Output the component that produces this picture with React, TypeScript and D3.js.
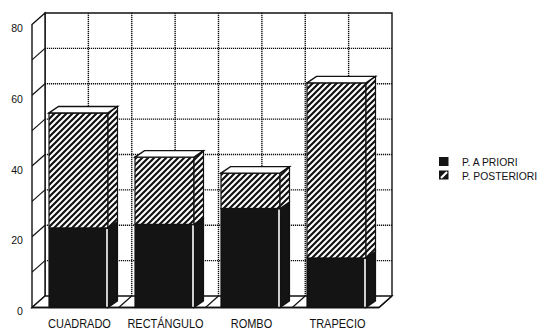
import React from "react";
import * as d3 from "d3";

// Stacked values per figure
const categories = ["CUADRADO", "RECTÁNGULO", "ROMBO", "TRAPECIO"];
const aPriori = [22.5, 23.5, 28, 14];
const aPosteriori = [32.5, 19, 10, 49.5];
const seriesKeys = ["priori", "posteriori"];
const seriesNames = ["P. A PRIORI", "P. POSTERIORI"];
const yTickLabels = [0, 20, 40, 60, 80];
const yGridValues = [10, 20, 30, 40, 50, 60, 70, 80];

const W = 547;
const H = 331;
const FONT = "'Liberation Sans Narrow', 'Arial Narrow', 'Liberation Sans', Arial, sans-serif";

const poly = (pts: [number, number][]) => "M" + pts.map((p) => p.join(",")).join("L") + "Z";

// condensed text drawn by squeezing a regular sans horizontally
function Narrow({
  x,
  y,
  squeeze,
  children,
  ...rest
}: {
  x: number;
  y: number;
  squeeze: number;
  children: React.ReactNode;
  [k: string]: any;
}) {
  return (
    <text transform={`translate(${x},${y}) scale(${squeeze},1)`} fontFamily={FONT} fill="#111" {...rest}>
      {children}
    </text>
  );
}

export default function App() {
  const y = d3.scaleLinear().domain([0, 80]).range([307.5, 24.5]);
  const wallDx = 13;
  const wallDy = -11.5;
  const barDx = 9.5;
  const barDy = -6.5;
  const floorLeft = 32;
  const floorRight = 379;
  const gridCols = 8;

  const x = d3
    .scaleBand<string>()
    .domain(categories)
    .range([31.8, 383.2])
    .paddingInner(0.314)
    .paddingOuter(0.2);
  const bw = x.bandwidth();

  const backX = d3.scaleLinear().domain([0, gridCols]).range([floorLeft + wallDx, floorRight + wallDx]);
  const yb = (v: number) => y(v) + wallDy;

  const rows = categories.map((c, i) => ({ cat: c, priori: aPriori[i], posteriori: aPosteriori[i] }));
  const stacked = d3.stack<any>().keys(seriesKeys)(rows);

  const backLeft = backX(0);
  const backRight = backX(gridCols);

  return (
    <svg
      width={W}
      height={H}
      viewBox={`0 0 ${W} ${H}`}
      style={{ position: "absolute", left: 0, top: 0, background: "#fff" }}
    >
      <defs>
        <pattern id="hatch" patternUnits="userSpaceOnUse" width={6} height={6}>
          <rect width={6} height={6} fill="#fff" />
          <path d="M-1,1 L1,-1 M0,6 L6,0 M5,7 L7,5" stroke="#111" strokeWidth={2.2} />
        </pattern>
      </defs>

      {/* back wall */}
      <rect x={backLeft} y={yb(80)} width={backRight - backLeft} height={yb(0) - yb(80)} fill="#fff" />
      {yGridValues.slice(0, -1).map((v) => (
        <line
          key={"hg" + v}
          x1={backLeft}
          x2={backRight}
          y1={yb(v)}
          y2={yb(v)}
          stroke="#111"
          strokeWidth={1.4}
          strokeDasharray="1.2,0.8"
        />
      ))}
      {d3.range(1, gridCols).map((k) => (
        <line
          key={"vg" + k}
          x1={backX(k)}
          x2={backX(k)}
          y1={yb(80)}
          y2={yb(0)}
          stroke="#111"
          strokeWidth={1.4}
          strokeDasharray="1.2,0.8"
        />
      ))}
      <path
        d={`M${backLeft},${yb(0)}L${backLeft},${yb(80)}L${backRight},${yb(80)}L${backRight},${yb(0)}`}
        fill="none"
        stroke="#111"
        strokeWidth={1.4}
      />

      {/* left wall */}
      <path
        d={poly([
          [floorLeft, y(80)],
          [backLeft, yb(80)],
          [backLeft, yb(0)],
          [floorLeft, y(0)],
        ])}
        fill="#fff"
        stroke="#111"
        strokeWidth={1.4}
      />
      {yGridValues.slice(0, -1).map((v) => (
        <line key={"lt" + v} x1={floorLeft} y1={y(v)} x2={backLeft} y2={yb(v)} stroke="#111" strokeWidth={1.2} />
      ))}

      {/* floor */}
      <path
        d={poly([
          [floorLeft, y(0)],
          [backLeft, yb(0)],
          [backRight, yb(0)],
          [floorRight, y(0)],
        ])}
        fill="#fff"
        stroke="#111"
        strokeWidth={1.3}
      />
      {d3.range(1, gridCols + 1).map((k) => (
        <line
          key={"fl" + k}
          x1={backX(k)}
          y1={yb(0)}
          x2={backX(k) - wallDx}
          y2={y(0)}
          stroke="#111"
          strokeWidth={1.2}
        />
      ))}

      {/* bars */}
      {categories.map((c, ci) => {
        const xl = x(c) as number;
        const xr = xl + bw;
        return (
          <g key={c}>
            {stacked.map((s, si) => {
              const [v0, v1] = s[ci];
              const top = y(v1);
              const bot = y(v0);
              const isTop = si === stacked.length - 1;
              const fill = si === 0 ? "#141414" : "url(#hatch)";
              return (
                <g key={s.key}>
                  <rect x={xl} y={top} width={bw} height={bot - top} fill={fill} stroke="#111" strokeWidth={1.2} />
                  <path
                    d={poly([
                      [xr, top],
                      [xr + barDx, top + barDy],
                      [xr + barDx, bot + barDy],
                      [xr, bot],
                    ])}
                    fill={fill}
                    stroke="#111"
                    strokeWidth={1.2}
                  />
                  {si === 0 && (
                    <line x1={xr - 1} x2={xr - 1} y1={top + 1} y2={bot} stroke="#fff" strokeWidth={1.6} />
                  )}
                  {isTop && (
                    <path
                      d={poly([
                        [xl, top],
                        [xl + barDx, top + barDy],
                        [xr + barDx, top + barDy],
                        [xr, top],
                      ])}
                      fill="#fff"
                      stroke="#111"
                      strokeWidth={1.4}
                    />
                  )}
                </g>
              );
            })}
          </g>
        );
      })}

      {/* front baseline */}
      <line x1={floorLeft} x2={floorRight} y1={y(0)} y2={y(0)} stroke="#111" strokeWidth={1.5} />

      {/* y axis labels */}
      {yTickLabels.map((v) => (
        <Narrow key={"yl" + v} x={23} y={y(v) + 3.5} squeeze={0.92} textAnchor="end" dominantBaseline="central" fontSize={11.5}>
          {v}
        </Narrow>
      ))}

      {/* category labels */}
      {categories.map((c) => (
        <Narrow key={"cl" + c} x={(x(c) as number) + bw / 2 + 1} y={327.5} squeeze={0.9} textAnchor="middle" fontSize={12.2}>
          {c}
        </Narrow>
      ))}

      {/* legend */}
      <g transform="translate(439,157)">
        <rect x={0} y={0} width={9.5} height={9} fill="#141414" />
        <Narrow x={23} y={4.8} squeeze={0.9} dominantBaseline="central" fontSize={11.5}>
          {seriesNames[0]}
        </Narrow>
        <g transform="translate(0,13.5)">
          <rect x={0} y={0} width={9.5} height={9} fill="#141414" />
          <line x1={2} y1={7.5} x2={8} y2={1.5} stroke="#fff" strokeWidth={2.2} />
          <Narrow x={23} y={4.8} squeeze={0.9} dominantBaseline="central" fontSize={11.5}>
            {seriesNames[1]}
          </Narrow>
        </g>
      </g>
    </svg>
  );
}
